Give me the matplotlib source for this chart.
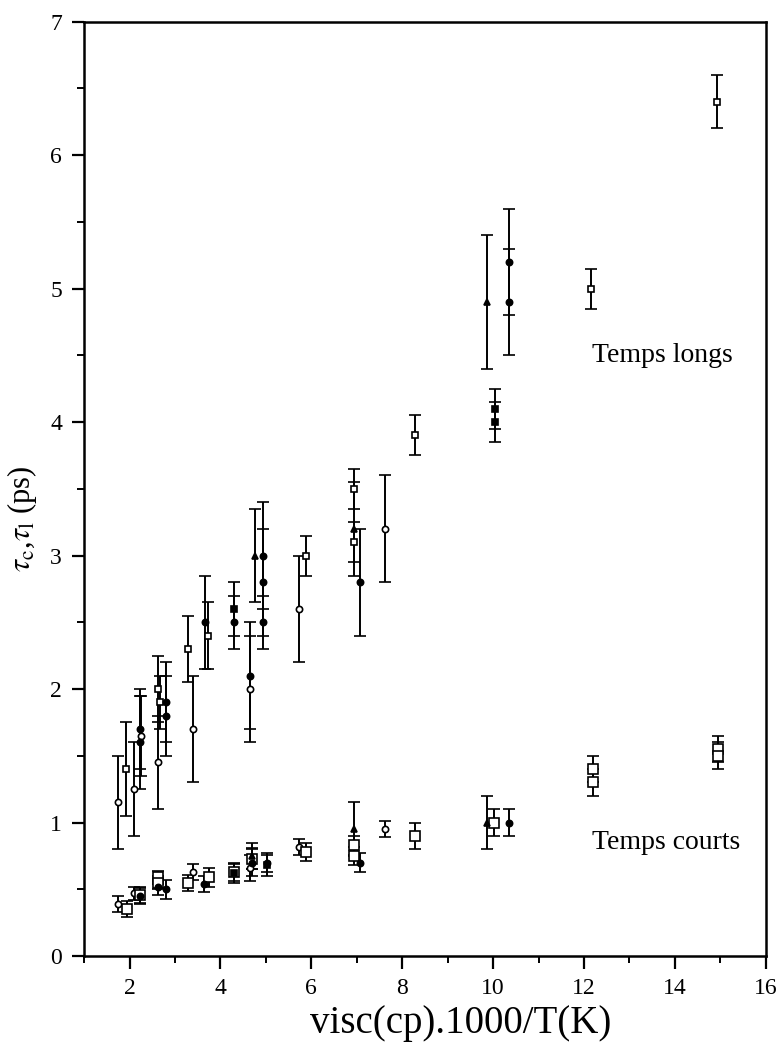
import numpy as np
import matplotlib
matplotlib.use('Agg')
import matplotlib.pyplot as plt
from matplotlib.ticker import MultipleLocator

plt.rcParams['font.family'] = ['Liberation Serif', 'DejaVu Serif']
plt.rcParams['mathtext.fontset'] = 'stix'

# temps longs
long_oc_x = [1.75, 2.10, 2.25, 2.62, 3.40, 4.66, 5.73, 7.63]
long_oc_y = [1.15, 1.25, 1.65, 1.45, 1.70, 2.00, 2.60, 3.20]
long_oc_e = [0.35, 0.35, 0.30, 0.35, 0.40, 0.40, 0.40, 0.40]

long_os_x = [1.92, 2.62, 2.68, 3.29, 3.73, 5.89, 6.94, 6.94, 8.29, 12.16, 14.93]
long_os_y = [1.40, 2.00, 1.90, 2.30, 2.40, 3.00, 3.50, 3.10, 3.90, 5.00, 6.40]
long_os_e = [0.35, 0.25, 0.20, 0.25, 0.25, 0.15, 0.15, 0.15, 0.15, 0.15, 0.20]

long_fc_x = [2.22, 2.22, 2.80, 2.80, 3.66, 4.30, 4.66, 4.93, 4.93, 4.93, 7.07, 10.36, 10.36]
long_fc_y = [1.70, 1.60, 1.90, 1.80, 2.50, 2.50, 2.10, 3.00, 2.80, 2.50, 2.80, 5.20, 4.90]
long_fc_e = [0.30, 0.35, 0.30, 0.30, 0.35, 0.20, 0.40, 0.40, 0.40, 0.20, 0.40, 0.40, 0.40]

long_ft_x = [4.77, 6.94, 9.86]
long_ft_y = [3.00, 3.20, 4.90]
long_ft_e = [0.35, 0.35, 0.50]

long_fs_x = [4.30, 10.04, 10.04]
long_fs_y = [2.60, 4.10, 4.00]
long_fs_e = [0.20, 0.15, 0.15]

# temps courts
short_oc_x = [1.75, 2.10, 3.40, 4.66, 5.73, 7.63]
short_oc_y = [0.39, 0.47, 0.63, 0.66, 0.82, 0.95]
short_oc_e = [0.06, 0.05, 0.06, 0.10, 0.06, 0.06]

short_os_x = [1.94, 2.23, 2.62, 2.62, 3.29, 3.75, 4.30, 4.70, 5.88, 6.94, 6.94, 8.29, 10.03, 12.20, 12.20, 14.95, 14.95]
short_os_y = [0.35, 0.46, 0.59, 0.55, 0.55, 0.59, 0.63, 0.73, 0.78, 0.83, 0.75, 0.90, 1.00, 1.40, 1.30, 1.55, 1.50]
short_os_e = [0.06, 0.06, 0.05, 0.05, 0.06, 0.07, 0.07, 0.08, 0.07, 0.07, 0.07, 0.10, 0.10, 0.10, 0.10, 0.10, 0.10]

short_fc_x = [2.23, 2.62, 2.80, 3.64, 4.70, 5.02, 7.07, 10.36]
short_fc_y = [0.45, 0.52, 0.50, 0.54, 0.70, 0.70, 0.70, 1.00]
short_fc_e = [0.06, 0.06, 0.07, 0.06, 0.10, 0.07, 0.07, 0.10]

short_ft_x = [4.70, 6.94, 9.86]
short_ft_y = [0.75, 0.95, 1.00]
short_ft_e = [0.10, 0.20, 0.20]

short_fs_x = [4.30, 5.02]
short_fs_y = [0.62, 0.68]
short_fs_e = [0.07, 0.08]

fig = plt.figure(figsize=(7.79, 10.51), dpi=100)
ax = fig.add_axes([0.108, 0.0904, 0.875, 0.889])

def series(x, y, e, marker, filled, ms):
    ax.errorbar(x, y, yerr=e, fmt=marker, color='black', ms=ms,
                mfc='black' if filled else 'white', mec='black', mew=1.2,
                ecolor='black', elinewidth=1.4, capsize=4.5, capthick=1.6, zorder=3)

series(long_oc_x, long_oc_y, long_oc_e, 'o', False, 4.5)
series(long_os_x, long_os_y, long_os_e, 's', False, 4.5)
series(long_fc_x, long_fc_y, long_fc_e, 'o', True, 4.5)
series(long_ft_x, long_ft_y, long_ft_e, '^', True, 5)
series(long_fs_x, long_fs_y, long_fs_e, 's', True, 4.5)

series(short_oc_x, short_oc_y, short_oc_e, 'o', False, 4.5)
series(short_os_x, short_os_y, short_os_e, 's', False, 6.5)
series(short_fc_x, short_fc_y, short_fc_e, 'o', True, 4.5)
series(short_ft_x, short_ft_y, short_ft_e, '^', True, 5)
series(short_fs_x, short_fs_y, short_fs_e, 's', True, 5)

ax.text(12.17, 4.5, 'Temps longs', fontsize=20, va='center', ha='left')
ax.text(12.17, 0.85, 'Temps courts', fontsize=20, va='center', ha='left')

ax.set_xlim(1, 16)
ax.set_ylim(0, 7)
ax.xaxis.set_major_locator(MultipleLocator(2))
ax.xaxis.set_minor_locator(MultipleLocator(1))
ax.yaxis.set_major_locator(MultipleLocator(1))
ax.yaxis.set_minor_locator(MultipleLocator(0.5))
ax.tick_params(which='major', direction='out', length=9, width=1.6, labelsize=17, pad=7)
ax.tick_params(which='minor', direction='out', length=5, width=1.4)
for s in ax.spines.values():
    s.set_linewidth(1.8)

ax.set_xlabel('visc(cp).1000/T(K)', fontsize=28)
ax.xaxis.set_label_coords(0.553, -0.052)
ax.set_ylabel(r'$\tau_{\rm c}$,$\tau_{\rm l}$ (ps)', fontsize=22)
ax.yaxis.set_label_coords(-0.066, 0.468)

fig.savefig('out.png', dpi=100)
